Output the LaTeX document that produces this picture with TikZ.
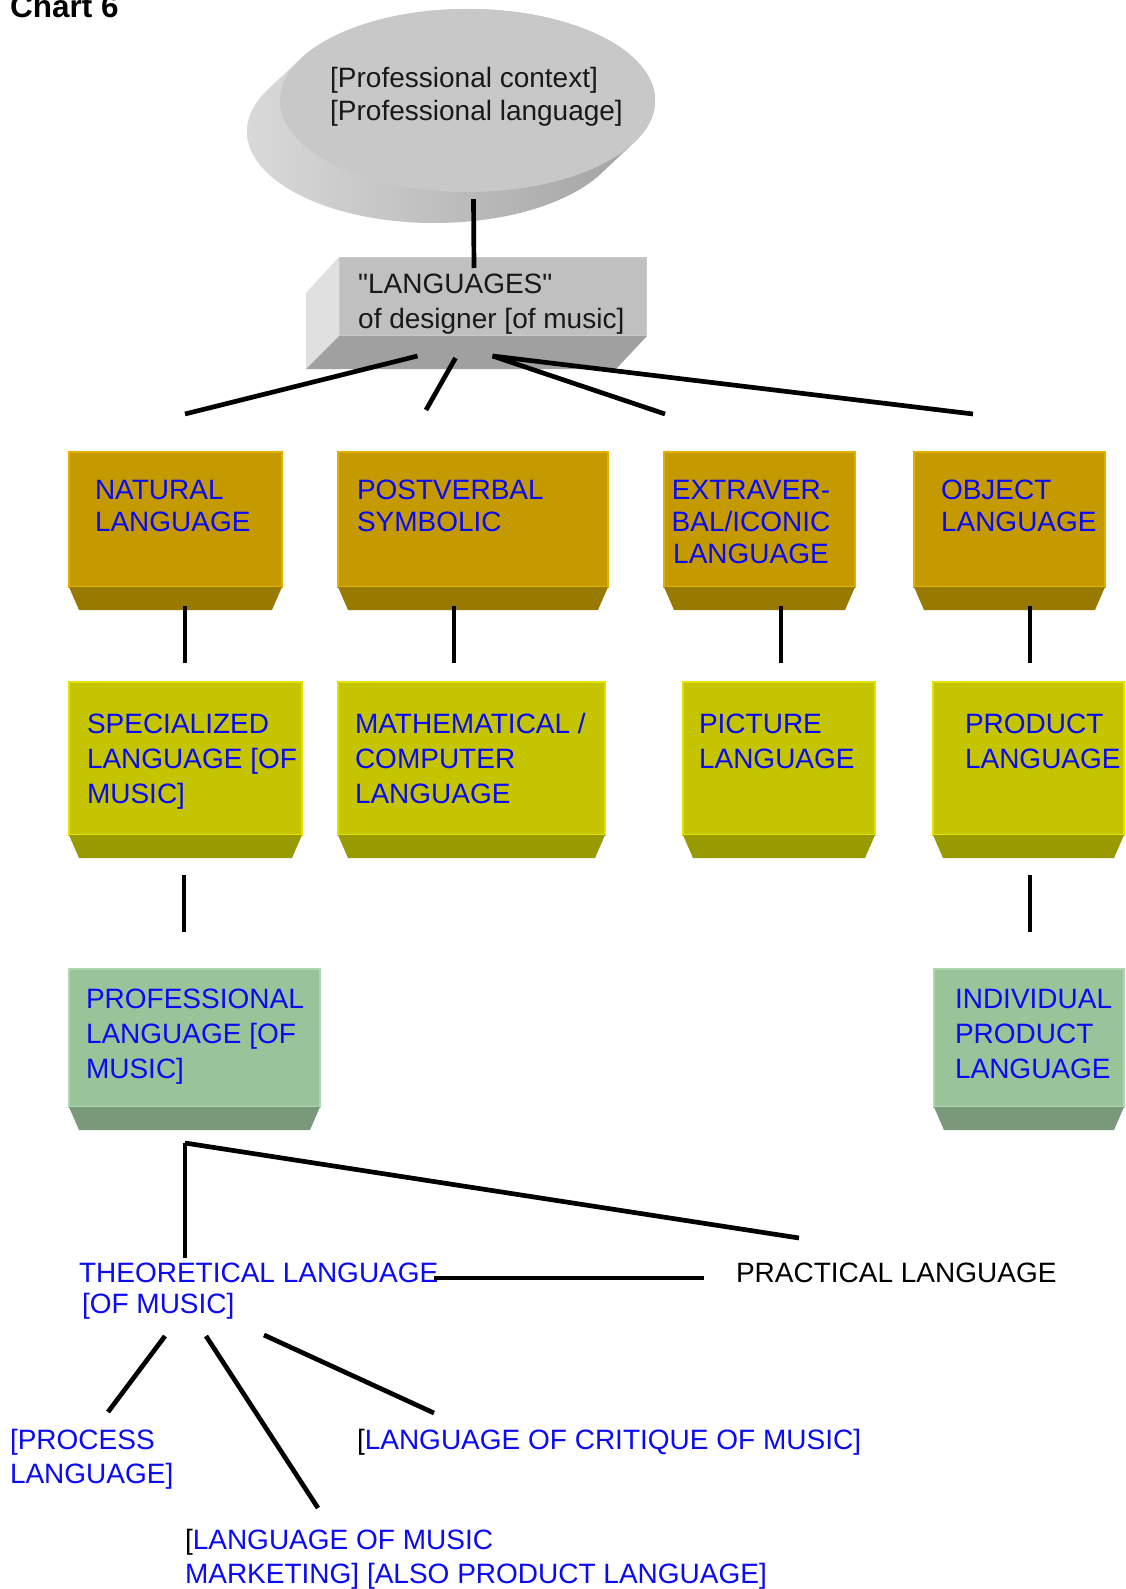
\documentclass[tikz,border=0pt]{standalone}
\usepackage{fontspec}
\setmainfont{Liberation Sans}
\newfontfamily\plainsans{Liberation Sans}
\usetikzlibrary{calc,shapes.geometric}

\definecolor{txtblue}{RGB}{10,10,245}
\definecolor{ochre}{RGB}{196,154,0}
\definecolor{ochredark}{RGB}{153,122,0}
\definecolor{ochreedge}{RGB}{228,176,0}
\definecolor{olive}{RGB}{196,196,0}
\definecolor{olivedark}{RGB}{153,153,0}
\definecolor{oliveedge}{RGB}{226,226,0}
\definecolor{sage}{RGB}{153,196,153}
\definecolor{sagedark}{RGB}{122,153,122}
\definecolor{sageedge}{RGB}{176,214,176}
\definecolor{greyface}{RGB}{192,192,192}
\definecolor{greyside}{RGB}{224,224,224}
\definecolor{greybottom}{RGB}{160,160,160}
\definecolor{discface}{RGB}{200,200,200}
\definecolor{discsidelight}{RGB}{218,218,218}
\definecolor{discsidedark}{RGB}{160,160,160}

\tikzset{
  conn/.style={line width=4.7pt, black},
  block/.style={draw=#1, line width=1.2pt, anchor=north west, inner sep=0pt, outer sep=0pt},
  % multi-line labels: the base anchor sits on the baseline of the last line
  label28/.style={inner sep=0pt, outer sep=0pt, anchor=base west, align=left,
    font=\fontsize{28}{#1}\selectfont, text=txtblue},
}

% bottom face seen from below: trapezoid under the node
\newcommand{\blockfoot}[2]{%
  \fill[#2] (#1.south west) -- (#1.south east) -- ([xshift=-10pt,yshift=-23pt]#1.south east)
    -- ([xshift=10pt,yshift=-23pt]#1.south west) -- cycle;}

\begin{document}
\begin{tikzpicture}[x=1pt,y=-1pt]
\useasboundingbox (0,0) rectangle (1126,1589);
\fill[white] (0,0) rectangle (1126,1589);

% title
\node[inner sep=0pt, anchor=base west, font=\fontsize{31.5}{34}\selectfont\bfseries] (title) at (10,17.5) {Chart 6};

% ---- extruded disc ----
\begin{scope}
  \clip foreach \i in {0,...,24} { (467.5-33+33*\i/24, 100.5+31-31*\i/24) ellipse [x radius=187.5, y radius=91.5] };
  \shade[left color=discsidelight, right color=discsidedark] (240,0) rectangle (660,240);
\end{scope}
\node[ellipse, fill=discface, minimum width=375pt, minimum height=183pt, inner sep=0pt] (ctx) at (467.5,100.5) {};
\node[inner sep=0pt, anchor=base west, align=left, font=\fontsize{28}{33}\selectfont, text=black!90] (ctxtext) at (330,121)
  {[Professional context]\\{}[Professional language]};

% ---- grey block "LANGUAGES" ----
\node[fill=greyface, draw=greyface!85!white, line width=1pt, anchor=north west, inner sep=0pt,
      minimum width=307pt, minimum height=78pt] (lang) at (339,257) {};
\fill[greyside] (lang.north west) -- (lang.south west) -- ([xshift=-33pt,yshift=-33pt]lang.south west)
  -- ([xshift=-33pt,yshift=-36pt]lang.north west) -- cycle;
\fill[greybottom] (lang.south west) -- (lang.south east) -- ([xshift=-31pt,yshift=-33pt]lang.south east)
  -- ([xshift=-33pt,yshift=-33pt]lang.south west) -- cycle;
\node[inner sep=0pt, anchor=base west, align=left, font=\plainsans\fontsize{28}{35}\selectfont, text=black!90] (langtext) at (358,328)
  {"LANGUAGES"\\of designer [of music]};

\draw[conn] ([xshift=6pt,yshift=-7pt]ctx.south) -- ([xshift=-19pt,yshift=-11pt]lang.north);

% ---- first row ----
\node[block=ochreedge, fill=ochre, minimum width=213pt, minimum height=135pt] (nat) at (69,452) {};
\node[block=ochreedge, fill=ochre, minimum width=270pt, minimum height=135pt] (post) at (338,452) {};
\node[block=ochreedge, fill=ochre, minimum width=191pt, minimum height=135pt] (extra) at (664,452) {};
\node[block=ochreedge, fill=ochre, minimum width=191pt, minimum height=135pt] (obj) at (914,452) {};
\blockfoot{nat}{ochredark}
\blockfoot{post}{ochredark}
\blockfoot{extra}{ochredark}
\blockfoot{obj}{ochredark}

\node[label28=32] (nattext) at (95,531) {NATURAL\\LANGUAGE};
\node[label28=32] (posttext) at (357,531) {POSTVERBAL\\SYMBOLIC};
\node[label28=32, anchor=base, align=center] (extratext) at (751,563) {EXTRAVER-\\BAL/ICONIC\\LANGUAGE};
\node[label28=32] (objtext) at (941,531) {OBJECT\\LANGUAGE};

% ---- second row ----
\node[block=oliveedge, fill=olive, minimum width=233pt, minimum height=153pt] (spec) at (69,682) {};
\node[block=oliveedge, fill=olive, minimum width=267pt, minimum height=153pt] (math) at (338,682) {};
\node[block=oliveedge, fill=olive, minimum width=192pt, minimum height=153pt] (pict) at (683,682) {};
\node[block=oliveedge, fill=olive, minimum width=191pt, minimum height=153pt] (prod) at (933,682) {};
\blockfoot{spec}{olivedark}
\blockfoot{math}{olivedark}
\blockfoot{pict}{olivedark}
\blockfoot{prod}{olivedark}

\node[label28=35] (spectext) at (87,803) {SPECIALIZED\\LANGUAGE [OF\\MUSIC]};
\node[label28=35] (mathtext) at (355,803) {MATHEMATICAL /\\COMPUTER\\LANGUAGE};
\node[label28=35] (picttext) at (699,768) {PICTURE\\LANGUAGE};
\node[label28=35] (prodtext) at (965,768) {PRODUCT\\LANGUAGE};

% ---- third row ----
\node[block=sageedge, fill=sage, minimum width=251pt, minimum height=138pt] (prof) at (69,969) {};
\node[block=sageedge, fill=sage, minimum width=190pt, minimum height=138pt] (indiv) at (934,969) {};
\blockfoot{prof}{sagedark}
\blockfoot{indiv}{sagedark}

\node[label28=35] (proftext) at (86,1078) {PROFESSIONAL\\LANGUAGE [OF\\MUSIC]};
\node[label28=35] (indivtext) at (955,1078) {INDIVIDUAL\\PRODUCT\\LANGUAGE};

% ---- connectors between blocks ----
\draw[conn] ([xshift=-75.5pt,yshift=-20pt]lang.south) -- ([xshift=9.5pt,yshift=38pt]nat.north);
\draw[conn] ([xshift=-37.5pt,yshift=-22pt]lang.south) -- ([xshift=-47pt,yshift=42pt]post.north);
\draw[conn] ([xshift=-0.5pt,yshift=-20pt]lang.south) -- ([xshift=-94.5pt,yshift=38pt]extra.north);
\draw[conn] ([xshift=-0.5pt,yshift=-20pt]lang.south) -- ([xshift=-36.5pt,yshift=38pt]obj.north);

\draw[conn] ([xshift=9.5pt,yshift=-19pt]nat.south) -- ([xshift=-0.5pt,yshift=19pt]spec.north);
\draw[conn] ([xshift=-19pt,yshift=-19pt]post.south) -- ([xshift=-17.5pt,yshift=19pt]math.north);
\draw[conn] ([xshift=21.5pt,yshift=-19pt]extra.south) -- ([xshift=2pt,yshift=19pt]pict.north);
\draw[conn] ([xshift=20.5pt,yshift=-19pt]obj.south) -- ([xshift=1.5pt,yshift=19pt]prod.north);

\draw[conn] ([xshift=-1.5pt,yshift=-40pt]spec.south) -- ([xshift=-10.5pt,yshift=37pt]prof.north);
\draw[conn] ([xshift=1.5pt,yshift=-40pt]prod.south) -- ([xshift=1pt,yshift=37pt]indiv.north);

% ---- lower tree ----
\node[label28=31] (theo) at (79,1313) {THEORETICAL LANGUAGE\\\hspace*{3pt}[OF MUSIC]};
\node[label28=31, text=black] (pract) at (736,1282) {PRACTICAL LANGUAGE};
\node[label28=34] (proc) at (10,1483) {[PROCESS\\LANGUAGE]};
\node[label28=34] (crit) at (357,1449) {\textcolor{black}{[}LANGUAGE OF CRITIQUE OF MUSIC]};
\node[label28=34] (mark) at (185,1583) {\textcolor{black}{[}LANGUAGE OF MUSIC\\MARKETING] [ALSO PRODUCT LANGUAGE]};

\coordinate (fork) at ([xshift=-9.5pt,yshift=-36pt]prof.south);
\draw[conn] (fork) -- ([xshift=106pt,yshift=55pt]theo.base west);
\draw[conn] (fork) -- ([xshift=63pt,yshift=44pt]pract.base west);
\draw[conn] ([xshift=355pt,yshift=35pt]theo.base west) -- ([xshift=-32pt,yshift=4pt]pract.base west);

\draw[conn] ([xshift=86pt,yshift=-23pt]theo.base west) -- ([xshift=98pt,yshift=71pt]proc.base west);
\draw[conn] ([xshift=127pt,yshift=-23pt]theo.base west) -- ([xshift=133pt,yshift=75pt]mark.base west);
\draw[conn] ([xshift=185pt,yshift=-22pt]theo.base west) -- ([xshift=77pt,yshift=36pt]crit.base west);

\end{tikzpicture}
\end{document}
